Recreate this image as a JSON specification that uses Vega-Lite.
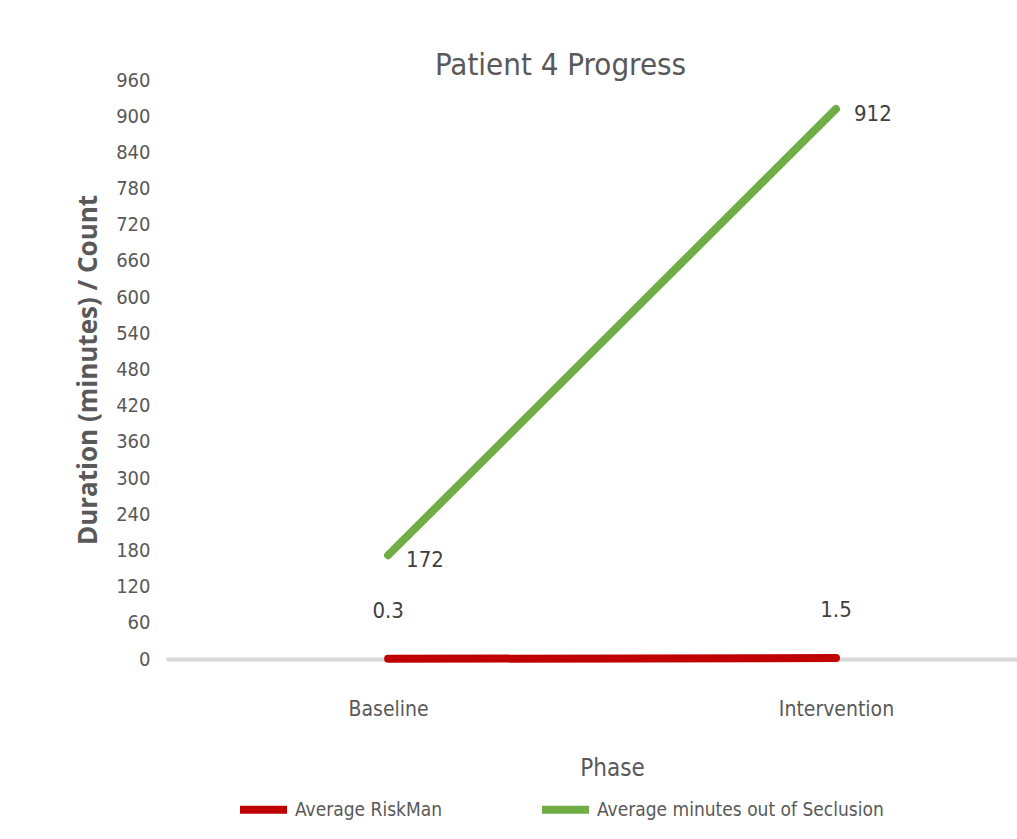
{
  "$schema": "https://vega.github.io/schema/vega-lite/v6.json",
  "autosize": {"type": "none"},
  "padding": {"left": 166, "top": 80, "right": 0, "bottom": 180},
  "width": 851,
  "height": 579,
  "background": "white",
  "title": {
    "text": "Patient 4 Progress",
    "font": "DejaVu Sans Condensed, Liberation Sans, sans-serif",
    "fontSize": 31,
    "fontWeight": "normal",
    "color": "#595959",
    "anchor": "middle",
    "dx": -31,
    "offset": -12
  },
  "config": {
    "view": {"stroke": null},
    "font": "DejaVu Sans Condensed, Liberation Sans, sans-serif"
  },
  "data": {
    "values": [
      {"Phase": "Baseline", "Series": "Average RiskMan", "Value": 0.3},
      {"Phase": "Intervention", "Series": "Average RiskMan", "Value": 1.5},
      {"Phase": "Baseline", "Series": "Average minutes out of Seclusion", "Value": 172},
      {"Phase": "Intervention", "Series": "Average minutes out of Seclusion", "Value": 912}
    ]
  },
  "encoding": {
    "x": {
      "field": "Phase",
      "type": "ordinal",
      "sort": ["Baseline", "Intervention"],
      "scale": {"type": "point", "padding": 0.45, "align": 0.551},
      "axis": {
        "title": "Phase",
        "titleFont": "DejaVu Sans Condensed, Liberation Sans, sans-serif",
        "titleFontSize": 24,
        "titleFontWeight": "normal",
        "titleColor": "#595959",
        "titlePadding": 37,
        "titleX": 446,
        "labelFont": "DejaVu Sans Condensed, Liberation Sans, sans-serif",
        "labelFontSize": 21,
        "labelColor": "#595959",
        "labelAngle": 0,
        "labelPadding": 39,
        "ticks": false,
        "domainColor": "#D9D9D9",
        "domainWidth": 4,
        "grid": false
      }
    },
    "y": {
      "field": "Value",
      "type": "quantitative",
      "scale": {"domain": [0, 960], "nice": false},
      "axis": {
        "title": "Duration (minutes) / Count",
        "titleFont": "Open Sans",
        "titleFontSize": 26,
        "titleFontWeight": "bold",
        "titleColor": "#595959",
        "titlePadding": 14,
        "values": [0, 60, 120, 180, 240, 300, 360, 420, 480, 540, 600, 660, 720, 780, 840, 900, 960],
        "labelFont": "DejaVu Sans Condensed, Liberation Sans, sans-serif",
        "labelFontSize": 20,
        "labelColor": "#595959",
        "labelPadding": 16,
        "ticks": false,
        "domain": false,
        "grid": false
      }
    }
  },
  "layer": [
    {
      "mark": {"type": "line", "strokeWidth": 8, "strokeCap": "round"},
      "encoding": {
        "color": {
          "field": "Series",
          "type": "nominal",
          "sort": ["Average RiskMan", "Average minutes out of Seclusion"],
          "scale": {"domain": ["Average RiskMan", "Average minutes out of Seclusion"], "range": ["#C00000", "#70AD47"]},
          "legend": {
            "title": null,
            "orient": "none",
            "legendX": 70,
            "legendY": 702,
            "direction": "horizontal",
            "symbolType": "stroke",
            "symbolSize": 2209,
            "symbolStrokeWidth": 8,
            "labelFont": "DejaVu Sans Condensed, Liberation Sans, sans-serif",
            "labelFontSize": 19,
            "labelColor": "#595959",
            "labelOffset": 4,
            "labelLimit": 500,
            "columnPadding": 84,
            "padding": 0
          }
        }
      }
    },
    {
      "transform": [{"filter": "datum.Series === 'Average RiskMan'"}],
      "mark": {"type": "text", "dy": -48, "align": "center", "baseline": "middle", "fontSize": 22, "color": "#404040", "font": "DejaVu Sans Condensed, Liberation Sans, sans-serif"},
      "encoding": {"text": {"field": "Value", "type": "quantitative"}}
    },
    {
      "transform": [{"filter": "datum.Series !== 'Average RiskMan'"}],
      "mark": {"type": "text", "dx": 18, "dy": 5, "align": "left", "baseline": "middle", "fontSize": 22, "color": "#404040", "font": "DejaVu Sans Condensed, Liberation Sans, sans-serif"},
      "encoding": {"text": {"field": "Value", "type": "quantitative"}}
    }
  ]
}
